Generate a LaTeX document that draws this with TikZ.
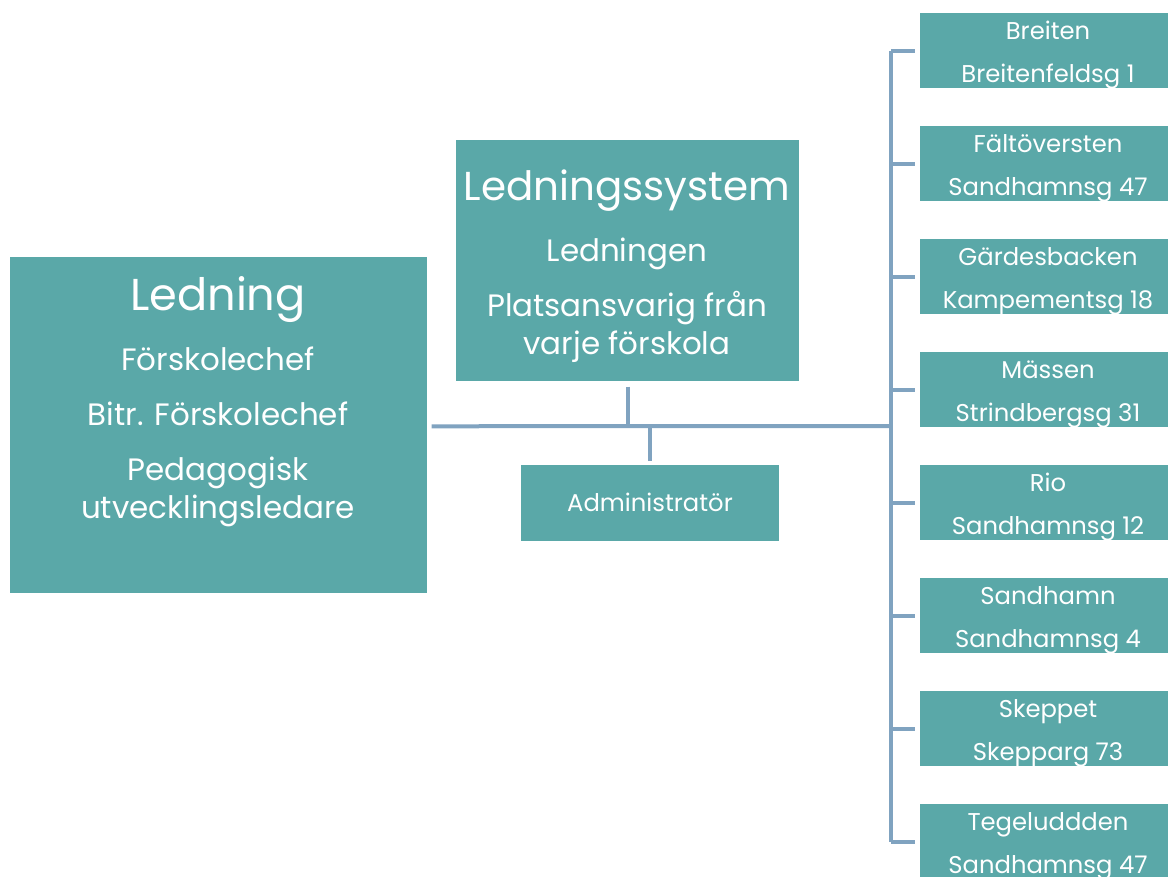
\documentclass[tikz,border=0pt]{standalone}
\usepackage{fontspec}
\setmainfont{Poppins}
\usetikzlibrary{calc}

\definecolor{boxteal}{RGB}{90,168,168}
\definecolor{linkblue}{RGB}{128,163,192}

\begin{document}
\begin{tikzpicture}[
        x=0.75pt, y=-0.75pt,
        box/.style={rectangle, fill=boxteal, inner sep=0pt, anchor=north west},
        txt/.style={text=white, inner sep=0pt, align=center, anchor=base},
        big/.style={txt, font=\fontsize{33.5}{38}\selectfont},
        mid/.style={txt, font=\fontsize{23.2}{28}\selectfont},
        small/.style={txt, font=\fontsize{18.2}{22}\selectfont},
        link/.style={draw=linkblue, line width=3pt}
    ]
        \useasboundingbox (0,0) rectangle (1168,876);

        % Main boxes
        \node[box, minimum width=417*0.75pt, minimum height=336*0.75pt] (led) at (10,257) {};
        \node[box, minimum width=343*0.75pt, minimum height=241*0.75pt] (sys) at (456,140) {};
        \node[box, minimum width=258*0.75pt, minimum height=76*0.75pt] (adm) at (521,465) {};

        % Texts in main boxes (placed on their baselines)
        \node[big] (ledT) at (218,310) {Ledning};
        \node[mid] (led1) at (218,370.5) {Förskolechef};
        \node[mid] (led2) at (218,425.5) {Bitr. Förskolechef};
        \node[mid] (led3) at (218,480) {Pedagogisk};
        \node[mid] (led4) at (218,518) {utvecklingsledare};
        \node[txt, font=\fontsize{30.3}{36}\selectfont] (sysT) at (627,200.5) {Ledningssystem};
        \node[mid] (sys1) at (627,261.5) {Ledningen};
        \node[mid] (sys2) at (627,316.5) {Platsansvarig från};
        \node[mid] (sys3) at (627,354.5) {varje förskola};
        \node[small] (admT) at (650,511.5) {Administratör};

        % Preschools
        \foreach \name/\addr [count=\i] in {Breiten/Breitenfeldsg 1, Fältöversten/Sandhamnsg 47,
                Gärdesbacken/Kampementsg 18, Mässen/Strindbergsg 31, Rio/Sandhamnsg 12,
                Sandhamn/Sandhamnsg 4, Skeppet/Skepparg 73, Tegeluddden/Sandhamnsg 47} {
            \node[box, minimum width=256*0.75pt, minimum height=75*0.75pt] (s\i) at (920,{13+(\i-1)*113}) {};
            \node[small] (s\i a) at (1048,{39.5+(\i-1)*113}) {\name};
            \node[small] (s\i b) at (1048,{82+(\i-1)*113}) {\addr};
        }

        % Connectors
        \coordinate (bus) at (891,426);
        \draw[link] ($(led.east)+(4,1)$) -- (bus);
        \draw[link] ($(sys.south)+(0,5)$) -- (sys.south |- bus);
        \draw[link] ($(adm.north)+(0,-4)$) -- (adm.north |- bus);
        \draw[link] (bus |- s1.west) -- (bus |- s8.west);
        \foreach \i in {1,...,8} {
            \draw[link] (bus |- s\i.west) -- ($(s\i.west)+(-5,0)$);
        }
    \end{tikzpicture}
\end{document}
